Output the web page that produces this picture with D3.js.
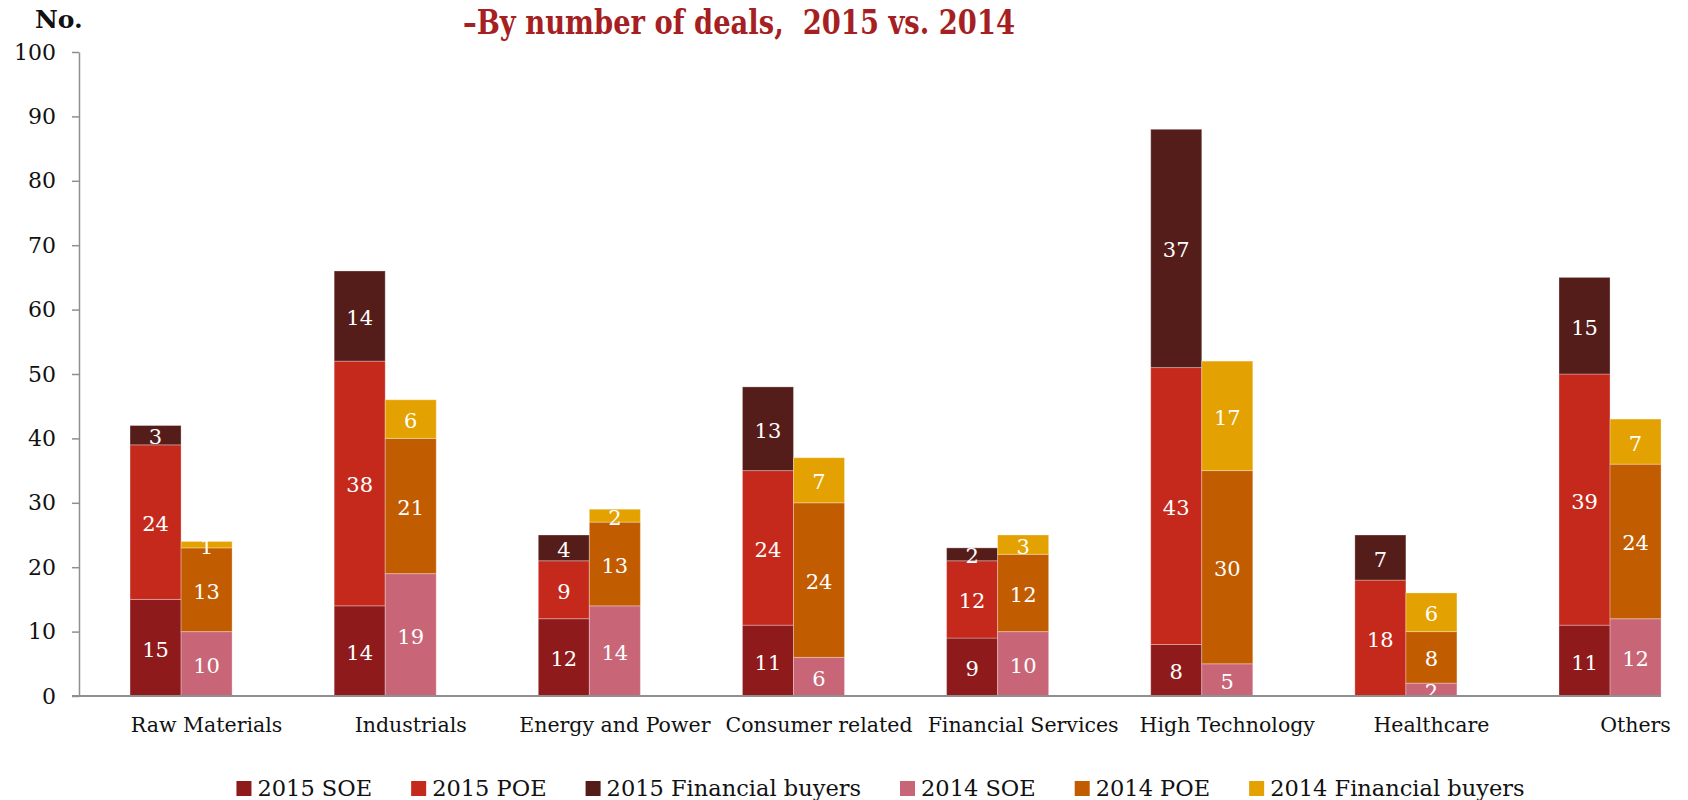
<!DOCTYPE html>
<html>
<head>
<meta charset="utf-8">
<script src="https://cdn.jsdelivr.net/npm/d3@7"></script>
<style>
  html, body { margin: 0; padding: 0; background: #ffffff; }
  svg { display: block; }
  text { font-family: "DejaVu Serif", Georgia, serif; }
</style>
</head>
<body>
<svg id="chart" width="1688" height="800"></svg>
<script>
// Outbound deals by sector and buyer type
const categories = ["Raw Materials", "Industrials", "Energy and Power", "Consumer related",
                    "Financial Services", "High Technology", "Healthcare", "Others"];
const years = ["2015", "2014"];
const buyerTypes = ["SOE", "POE", "Financial buyers"];

const soe2015 = [15, 14, 12, 11, 9, 8, 0, 11];
const poe2015 = [24, 38, 9, 24, 12, 43, 18, 39];
const fin2015 = [3, 14, 4, 13, 2, 37, 7, 15];
const soe2014 = [10, 19, 14, 6, 10, 5, 2, 12];
const poe2014 = [13, 21, 13, 24, 12, 30, 8, 24];
const fin2014 = [1, 6, 2, 7, 3, 17, 6, 7];

const yTicks = [0, 10, 20, 30, 40, 50, 60, 70, 80, 90, 100];

const colors = {
  "2015 SOE": "#8e1a1c",
  "2015 POE": "#c5291c",
  "2015 Financial buyers": "#541d1a",
  "2014 SOE": "#c86677",
  "2014 POE": "#c25c00",
  "2014 Financial buyers": "#e3a201"
};

const valuesByYear = {
  "2015": [soe2015, poe2015, fin2015],
  "2014": [soe2014, poe2014, fin2014]
};

const svg = d3.select("#chart");

const y = d3.scaleLinear().domain([0, 100]).range([696, 52]);
const x = d3.scaleBand().domain(categories).range([79, 1712.1])
  .paddingInner(0.5).paddingOuter(0.25);
const xYear = d3.scaleBand().domain(years).range([0, x.bandwidth()]).padding(0);

// y axis
const yAxis = d3.axisLeft(y).tickValues(yTicks).tickSize(7).tickSizeOuter(0).tickPadding(16);
const gy = svg.append("g").attr("transform", "translate(79,0)").call(yAxis);
gy.select(".domain").attr("stroke", "#8f8f8f").attr("stroke-width", 1.5);
gy.selectAll(".tick line").attr("stroke", "#8f8f8f").attr("stroke-width", 1.5);
gy.selectAll(".tick text").attr("font-size", 22).attr("fill", "#111")
  .attr("font-family", "DejaVu Serif, Georgia, serif");

// stacked bars, one stack per year inside each sector
years.forEach(yr => {
  const rows = categories.map((c, i) => {
    const r = { category: c };
    buyerTypes.forEach((b, k) => { r[b] = valuesByYear[yr][k][i]; });
    return r;
  });
  const stacked = d3.stack().keys(buyerTypes)(rows);
  stacked.forEach(layer => {
    const key = yr + " " + layer.key;
    const g = svg.append("g").attr("class", "layer");
    g.selectAll("rect").data(layer).join("rect")
      .attr("x", d => x(d.data.category) + xYear(yr))
      .attr("width", xYear.bandwidth())
      .attr("y", d => y(d[1]))
      .attr("height", d => y(d[0]) - y(d[1]))
      .attr("fill", colors[key])
      .attr("stroke", "rgba(255,255,255,0.3)")
      .attr("stroke-width", 1);
    g.selectAll("text").data(layer.filter(d => d[1] - d[0] > 0)).join("text")
      .attr("x", d => x(d.data.category) + xYear(yr) + xYear.bandwidth() / 2)
      .attr("y", d => y((d[0] + d[1]) / 2) + 2)
      .attr("text-anchor", "middle")
      .attr("dominant-baseline", "central")
      .attr("font-size", 21)
      .attr("fill", "#ffffff")
      .text(d => d[1] - d[0]);
  });
});

// x axis baseline
svg.append("line")
  .attr("x1", 72).attr("x2", x(categories[categories.length - 1]) + x.bandwidth())
  .attr("y1", y(0)).attr("y2", y(0))
  .attr("stroke", "#8f8f8f").attr("stroke-width", 2);

// sector labels
svg.append("g").selectAll("text").data(categories).join("text")
  .attr("x", d => x(d) + x.bandwidth() * 0.75)
  .attr("y", 732)
  .attr("text-anchor", "middle")
  .attr("font-size", 20.5)
  .attr("fill", "#111")
  .text(d => d);

// axis unit and title
svg.append("text").attr("x", 35).attr("y", 28)
  .attr("font-family", "Liberation Serif, serif")
  .attr("font-weight", "bold").attr("font-size", 25).attr("fill", "#111")
  .text("No.");

svg.append("text").attr("x", 463).attr("y", 34)
  .attr("font-family", "Liberation Serif, serif")
  .attr("font-weight", "bold").attr("font-size", 34).attr("fill", "#a51f23")
  .attr("textLength", 552).attr("lengthAdjust", "spacingAndGlyphs")
  .attr("xml:space", "preserve")
  .text("\u2013By number of deals,  2015 vs. 2014");

// legend
const legendKeys = [];
years.forEach(yr => buyerTypes.forEach(b => legendKeys.push(yr + " " + b)));
const legend = svg.append("g");
let cursor = 0;
legendKeys.forEach(k => {
  const item = legend.append("g").attr("transform", `translate(${cursor},0)`);
  item.append("rect").attr("x", 0).attr("y", 781).attr("width", 15).attr("height", 15)
    .attr("fill", colors[k]);
  const t = item.append("text").attr("x", 21).attr("y", 796)
    .attr("font-size", 22.5).attr("fill", "#111").text(k);
  cursor += 21 + t.node().getComputedTextLength() + 39;
});
const legendWidth = cursor - 39;
legend.attr("transform", `translate(${880.5 - legendWidth / 2},0)`);
</script>
</body>
</html>
